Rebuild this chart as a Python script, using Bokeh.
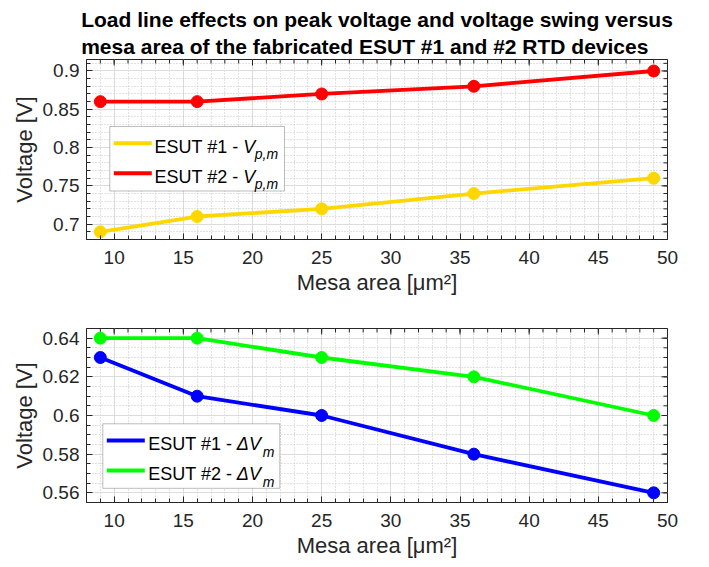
import numpy as np
from bokeh.embed import file_html
from bokeh.layouts import column
from bokeh.models import BoxAnnotation, FixedTicker, Label, Range1d
from bokeh.plotting import figure
from bokeh.resources import INLINE

# ---- data -------------------------------------------------------------
mesa_area = [9, 16, 25, 36, 49]                     # µm²

peak_v_esut1 = [0.69, 0.71, 0.72, 0.74, 0.76]       # V_p,m  ESUT #1
peak_v_esut2 = [0.86, 0.86, 0.87, 0.88, 0.90]       # V_p,m  ESUT #2

swing_esut1 = [0.63, 0.61, 0.60, 0.58, 0.56]        # ΔV_m   ESUT #1
swing_esut2 = [0.64, 0.64, 0.63, 0.62, 0.60]        # ΔV_m   ESUT #2

x_ticks = [10, 15, 20, 25, 30, 35, 40, 45, 50]
x_tick_labels = ["10", "15", "20", "25", "30", "35", "40", "45", "50"]

top_y_ticks = [0.7, 0.75, 0.8, 0.85, 0.9]
top_y_tick_labels = ["0.7", "0.75", "0.8", "0.85", "0.9"]

bottom_y_ticks = [0.56, 0.58, 0.6, 0.62, 0.64]
bottom_y_tick_labels = ["0.56", "0.58", "0.6", "0.62", "0.64"]

title_text = ("Load line effects on peak voltage and voltage swing versus\n"
              "mesa area of the fabricated ESUT #1 and #2 RTD devices")
x_label = "Mesa area [μm²]"
y_label = "Voltage [V]"

# ---- style ------------------------------------------------------------
FONT = "Liberation Sans"
AX = "#262626"
YELLOW, RED, BLUE, GREEN = "#FFD700", "#FF0000", "#0000FF", "#00FF00"
FRAME_W = 581
MAJOR_TICK, MINOR_TICK = 6, 4

x_minor = list(range(8, 51))
top_y_minor = list(np.round(np.arange(0.68, 0.9151, 0.01), 3))
bottom_y_minor = list(np.round(np.arange(0.555, 0.6451, 0.005), 4))


def style_axis(axis, ticker, labels):
    axis.ticker = ticker
    axis.major_label_overrides = labels
    axis.axis_line_color = AX
    axis.major_tick_line_color = AX
    axis.minor_tick_line_color = AX
    axis.major_tick_in = MAJOR_TICK
    axis.major_tick_out = 0
    axis.minor_tick_in = MINOR_TICK
    axis.minor_tick_out = 0
    axis.major_label_text_font = FONT
    axis.major_label_text_font_size = "19px"
    axis.major_label_text_color = AX
    axis.axis_label_text_font = FONT
    axis.axis_label_text_font_size = "22px"
    axis.axis_label_text_font_style = "normal"
    axis.axis_label_text_color = AX


def mirror_ticks(p, x_rng, y_rng, frame_h, y_ticks, y_minor):
    """Inward tick marks on the top and right edges of the box."""
    dy = (y_rng.end - y_rng.start) / frame_h
    dx = (x_rng.end - x_rng.start) / FRAME_W
    for ticks, length in ((x_ticks, MAJOR_TICK), (x_minor, MINOR_TICK)):
        p.segment(x0=ticks, x1=ticks, y0=[y_rng.end] * len(ticks),
                  y1=[y_rng.end - length * dy] * len(ticks), line_color=AX, line_width=1)
    for ticks, length in ((y_ticks, MAJOR_TICK), (y_minor, MINOR_TICK)):
        p.segment(y0=ticks, y1=ticks, x0=[x_rng.end] * len(ticks),
                  x1=[x_rng.end - length * dx] * len(ticks), line_color=AX, line_width=1)


def make_panel(y_rng, y_ticks, y_labels, y_minor, frame_h, top_border, bottom_border):
    x_rng = Range1d(8, 50)
    p = figure(frame_width=FRAME_W, frame_height=frame_h,
               x_range=x_rng, y_range=y_rng,
               output_backend="svg", toolbar_location=None,
               min_border_left=86, min_border_right=42,
               min_border_top=top_border, min_border_bottom=bottom_border,
               background_fill_color="white", border_fill_color="white")
    p.outline_line_color = AX
    p.outline_line_alpha = 1.0

    xt = FixedTicker(ticks=x_ticks, minor_ticks=x_minor)
    yt = FixedTicker(ticks=y_ticks, minor_ticks=y_minor)

    xa, ya = p.xaxis[0], p.yaxis[0]
    style_axis(xa, xt, dict(zip(x_ticks, x_tick_labels)))
    style_axis(ya, yt, dict(zip(y_ticks, y_labels)))
    xa.axis_label = x_label
    ya.axis_label = y_label
    xa.major_label_standoff = 11
    xa.axis_label_standoff = 3
    ya.major_label_standoff = 7
    ya.axis_label_standoff = 3

    for g, t in ((p.xgrid[0], xt), (p.ygrid[0], yt)):
        g.ticker = t
        g.grid_line_color = "#dcdcdc"
        g.grid_line_width = 1
        g.minor_grid_line_color = "#c4c4c4"
        g.minor_grid_line_dash = "1 2"
        g.minor_grid_line_width = 1

    mirror_ticks(p, x_rng, y_rng, frame_h, y_ticks, y_minor)
    return p


def add_series(p, ys, color):
    p.line(mesa_area, ys, line_width=3.8, color=color)
    p.scatter(mesa_area, ys, size=12, marker="circle", color=color)


def add_legend(p, left, top, width, entries, text_dx, sym_dx, sub_dx):
    """Boxed legend with italic symbols and subscripts (screen units, frame relative)."""
    p.add_layout(BoxAnnotation(left=left, right=left + width, top=top, bottom=top - 64.5,
                               left_units="screen", right_units="screen",
                               top_units="screen", bottom_units="screen",
                               fill_color="white", fill_alpha=1.0,
                               line_color=AX, line_width=1))
    for i, (prefix, sym, sub, color) in enumerate(entries):
        cy = top - 16.7 - 30 * i
        base = cy - 3.5
        p.add_layout(BoxAnnotation(left=left + 4, right=left + 42, top=cy + 2, bottom=cy - 2,
                                   left_units="screen", right_units="screen",
                                   top_units="screen", bottom_units="screen",
                                   fill_color=color, fill_alpha=1.0, line_color=None))
        common = dict(x_units="screen", y_units="screen", text_font=FONT,
                      text_color="black", text_baseline="alphabetic")
        p.add_layout(Label(x=left + text_dx, y=base, text=prefix,
                           text_font_size="18px", **common))
        p.add_layout(Label(x=left + sym_dx, y=base, text=sym, text_font_style="italic",
                           text_font_size="18px", **common))
        p.add_layout(Label(x=left + sub_dx, y=base - 7.5, text=sub, text_font_style="italic",
                           text_font_size="14px", **common))


# ---- top panel: peak voltage -----------------------------------------
top = make_panel(Range1d(0.68, 0.915), top_y_ticks, top_y_tick_labels, top_y_minor,
                 180, 59, 61)
top.title.text = title_text
top.title.align = "center"
top.title.text_font = FONT
top.title.text_font_size = "21px"
top.title.text_font_style = "bold"
top.title.text_color = "black"
top.title.text_line_height = 1.2
top.title.standoff = 2
add_series(top, peak_v_esut1, YELLOW)
add_series(top, peak_v_esut2, RED)
add_legend(top, 23.3, 113, 174.7,
           [("ESUT #1 - ", "V", "p,m", YELLOW), ("ESUT #2 - ", "V", "p,m", RED)],
           44.7, 133.4, 145)

# ---- bottom panel: voltage swing -------------------------------------
bottom = make_panel(Range1d(0.555, 0.645), bottom_y_ticks, bottom_y_tick_labels,
                    bottom_y_minor, 174, 28, 65)
add_series(bottom, swing_esut1, BLUE)
add_series(bottom, swing_esut2, GREEN)
add_legend(bottom, 16.3, 78.7, 177,
           [("ESUT #1 - ", "ΔV", "m", BLUE), ("ESUT #2 - ", "ΔV", "m", GREEN)],
           45.4, 134, 160)

layout = column(top, bottom, spacing=0)
open("out.html", "w").write(file_html(layout, INLINE))
